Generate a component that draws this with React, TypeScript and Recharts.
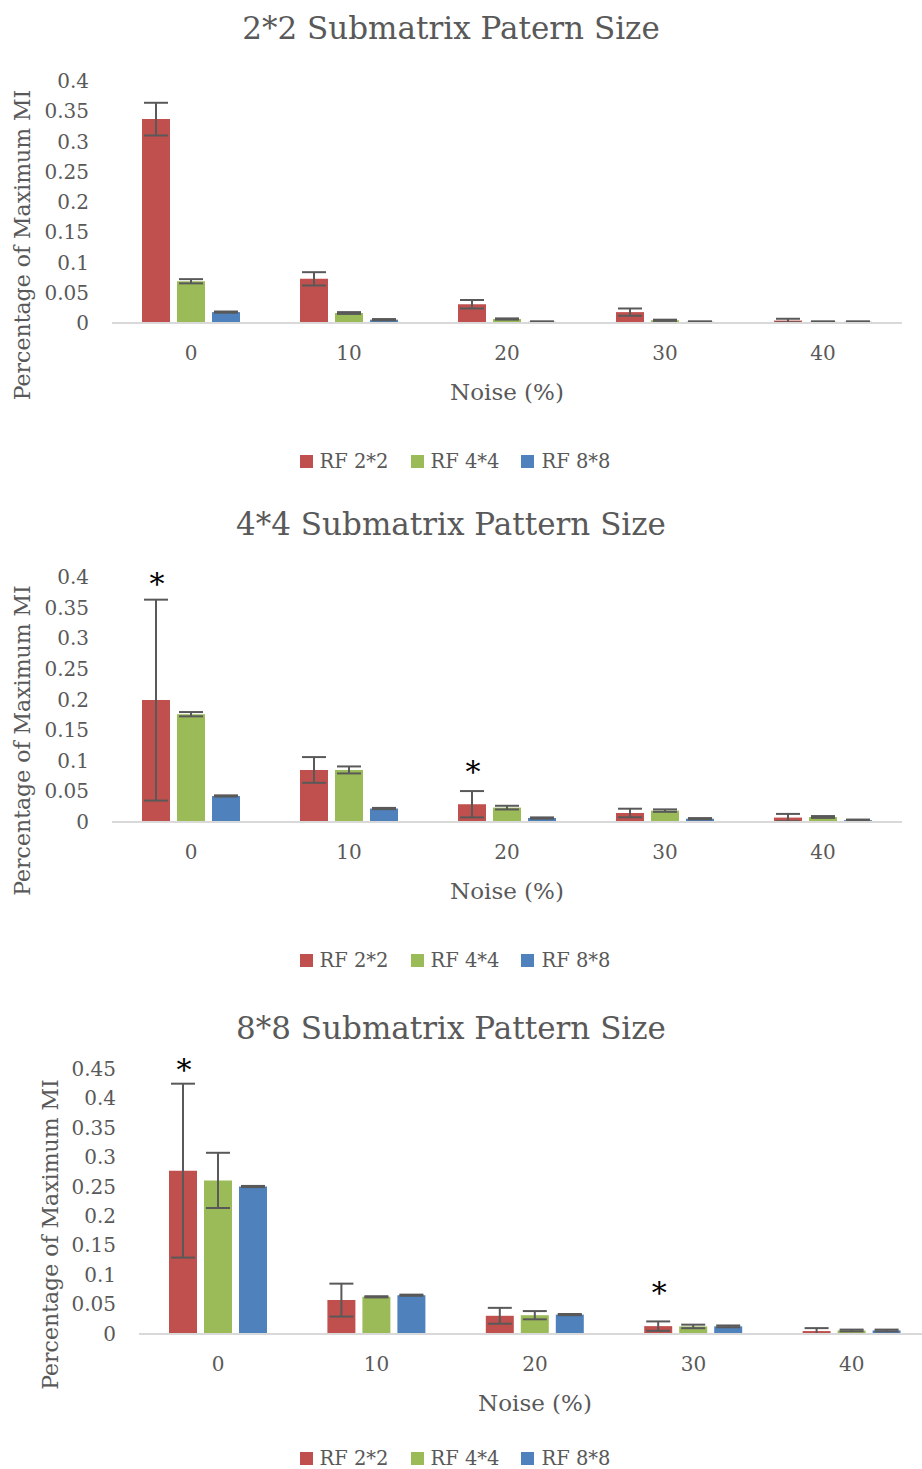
import React from 'react';
import { BarChart, Bar, XAxis, YAxis, ErrorBar } from 'recharts';

const categories = ['0', '10', '20', '30', '40'];
const seriesNames = ['RF 2*2', 'RF 4*4', 'RF 8*8'];
const seriesColors = ['#C0504D', '#9BBB59', '#4F81BD'];

// Chart 1: 2*2 Submatrix Patern Size
const c1Red = [0.337, 0.073, 0.031, 0.018, 0.004];
const c1RedErr = [0.027, 0.011, 0.007, 0.006, 0.003];
const c1Green = [0.069, 0.0165, 0.0066, 0.0045, 0.002];
const c1GreenErr = [0.0035, 0.0015, 0.001, 0.001, 0.0008];
const c1Blue = [0.018, 0.0055, 0.002, 0.002, 0.002];
const c1BlueErr = [0.001, 0.001, 0.0008, 0.0008, 0.0008];
const c1Stars: (number | null)[] = [null, null, null, null, null];

// Chart 2: 4*4 Submatrix Pattern Size
const c2Red = [0.199, 0.085, 0.029, 0.0147, 0.0072];
const c2RedErr = [0.164, 0.021, 0.0215, 0.007, 0.006];
const c2Green = [0.176, 0.085, 0.0235, 0.0186, 0.0082];
const c2GreenErr = [0.0035, 0.0057, 0.003, 0.002, 0.0015];
const c2Blue = [0.0425, 0.022, 0.0065, 0.0054, 0.003];
const c2BlueErr = [0.001, 0.001, 0.001, 0.001, 0.001];
const c2Stars: (number | null)[] = [0.4, null, 0.093, null, null];

// Chart 3: 8*8 Submatrix Pattern Size
const c3Red = [0.277, 0.0567, 0.03, 0.0124, 0.004];
const c3RedErr = [0.148, 0.028, 0.0135, 0.008, 0.005];
const c3Green = [0.2604, 0.0623, 0.031, 0.0119, 0.005];
const c3GreenErr = [0.047, 0.001, 0.007, 0.003, 0.0015];
const c3Blue = [0.25, 0.065, 0.032, 0.012, 0.005];
const c3BlueErr = [0.001, 0.001, 0.001, 0.0015, 0.0015];
const c3Stars: (number | null)[] = [0.461, null, null, 0.08, null];

const ticks04 = [0, 0.05, 0.1, 0.15, 0.2, 0.25, 0.3, 0.35, 0.4];
const ticks045 = [0, 0.05, 0.1, 0.15, 0.2, 0.25, 0.3, 0.35, 0.4, 0.45];

const titles = ['2*2 Submatrix Patern Size', '4*4 Submatrix Pattern Size', '8*8 Submatrix Pattern Size'];
const xTitle = 'Noise (%)';
const yTitle = 'Percentage of Maximum MI';

const FONT = '"DejaVu Serif", serif';
const TEXT = '#595959';

function buildRows(r: number[], re: number[], g: number[], ge: number[], b: number[], be: number[], s: (number | null)[]) {
  return categories.map((c, i) => ({
    noise: c,
    a: r[i], aErr: re[i],
    b: g[i], bErr: ge[i],
    c: b[i], cErr: be[i],
    star: s[i],
  }));
}

const rows1 = buildRows(c1Red, c1RedErr, c1Green, c1GreenErr, c1Blue, c1BlueErr, c1Stars);
const rows2 = buildRows(c2Red, c2RedErr, c2Green, c2GreenErr, c2Blue, c2BlueErr, c2Stars);
const rows3 = buildRows(c3Red, c3RedErr, c3Green, c3GreenErr, c3Blue, c3BlueErr, c3Stars);

type PanelProps = {
  top: number;
  title: string;
  titleY: number;
  plotTop: number;
  plotBottom: number;
  plotLeft: number;
  plotRight: number;
  ymax: number;
  ticks: number[];
  rows: any[];
  yLabelX: number;
  yLabelDy: number;
  legendY: number;
};

function Panel(p: PanelProps) {
  const xAxisH = 100;
  const height = p.plotBottom - p.top + xAxisH;
  const width = p.plotRight + 10;
  const keys = ['a', 'b', 'c'];

  const starLabel = (lp: any) => {
    const row = p.rows[lp.index];
    if (!row || row.star == null || !row.a) return null;
    const base = lp.y + lp.height;
    const pxPerUnit = lp.height / row.a;
    const cy = base - row.star * pxPerUnit;
    return (
      <text key={`star-${lp.index}`} x={lp.x + lp.width / 2 + 1} y={cy + 17} textAnchor="middle" fontFamily={FONT} fontSize={30} fill="#000">
        *
      </text>
    );
  };

  return (
    <div style={{ position: 'absolute', left: 0, top: p.top, width: 922, height }}>
      <div
        style={{
          position: 'absolute', left: 0, width: 902, top: p.titleY - p.top - 20, height: 40,
          lineHeight: '40px', textAlign: 'center', fontFamily: FONT, fontSize: 31, color: TEXT,
        }}
      >
        {p.title}
      </div>
      <div style={{ position: 'absolute', left: 0, top: 0 }}>
        <BarChart
          width={width}
          height={height}
          data={p.rows}
          margin={{ top: p.plotTop - p.top, right: 10, bottom: 0, left: 0 }}
          barCategoryGap={30}
          barGap={7}
        >
          <XAxis
            dataKey="noise"
            height={xAxisH}
            axisLine={{ stroke: '#D9D9D9', strokeWidth: 2 }}
            tickLine={false}
            tickMargin={17}
            tick={{ fill: TEXT, fontSize: 20, fontFamily: FONT }}
            label={{
              content: (lp: any) => {
                const vb = lp.viewBox || {};
                return (
                  <text x={vb.x + vb.width / 2} y={vb.y + 69} textAnchor="middle" dominantBaseline="central" fontFamily={FONT} fontSize={23} fill={TEXT}>
                    {xTitle}
                  </text>
                );
              },
            }}
          />
          <YAxis
            width={p.plotLeft}
            domain={[0, p.ymax]}
            ticks={p.ticks}
            interval={0}
            axisLine={false}
            tickLine={false}
            tickMargin={17}
            tick={{ fill: TEXT, fontSize: 20, fontFamily: FONT }}
            label={{
              content: (lp: any) => {
                const vb = lp.viewBox || {};
                const cx = p.yLabelX;
                const cy = vb.y + vb.height / 2 + p.yLabelDy;
                return (
                  <text x={cx} y={cy} transform={`rotate(-90, ${cx}, ${cy})`} textAnchor="middle" dominantBaseline="central" fontFamily={FONT} fontSize={22} fill={TEXT}>
                    {yTitle}
                  </text>
                );
              },
            }}
          />
          {keys.map((k, i) => (
            <Bar
              key={k}
              dataKey={k}
              name={seriesNames[i]}
              fill={seriesColors[i]}
              isAnimationActive={false}
              label={i === 0 ? starLabel : undefined}
            >
              <ErrorBar dataKey={`${k}Err`} width={12} stroke="#595959" strokeWidth={2} direction="y" />
            </Bar>
          ))}
        </BarChart>
      </div>
      <div
        style={{
          position: 'absolute', left: 0, width: 910, top: p.legendY - p.top - 14, height: 28,
          display: 'flex', justifyContent: 'center', alignItems: 'center', gap: 22,
          fontFamily: FONT, fontSize: 19.5, color: TEXT,
        }}
      >
        {seriesNames.map((n, i) => (
          <div key={n} style={{ display: 'flex', alignItems: 'center', gap: 7 }}>
            <div style={{ width: 13, height: 13, background: seriesColors[i] }} />
            <span>{n}</span>
          </div>
        ))}
      </div>
    </div>
  );
}

export default function App() {
  return (
    <div style={{ position: 'absolute', left: 0, top: 0, width: 922, height: 1469, overflow: 'hidden', background: '#fff' }}>
      <Panel top={0} title={titles[0]} titleY={28} plotTop={81} plotBottom={323} plotLeft={112} plotRight={902}
        ymax={0.4} ticks={ticks04} rows={rows1} yLabelX={22} yLabelDy={43} legendY={461} />
      <Panel top={495} title={titles[1]} titleY={524} plotTop={577} plotBottom={822} plotLeft={112} plotRight={902}
        ymax={0.4} ticks={ticks04} rows={rows2} yLabelX={22} yLabelDy={41} legendY={960} />
      <Panel top={990} title={titles[2]} titleY={1028} plotTop={1069} plotBottom={1334} plotLeft={139} plotRight={931}
        ymax={0.45} ticks={ticks045} rows={rows3} yLabelX={50} yLabelDy={33} legendY={1458} />
    </div>
  );
}
